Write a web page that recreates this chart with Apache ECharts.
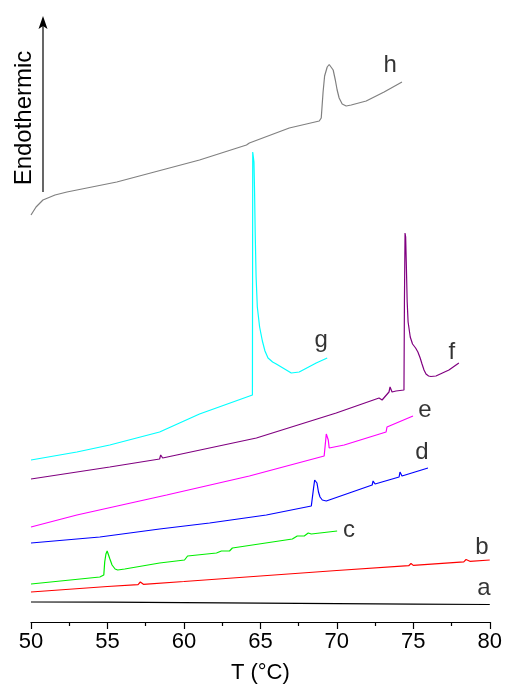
<!DOCTYPE html>
<html>
<head>
<meta charset="utf-8">
<script src="https://cdn.jsdelivr.net/npm/echarts@6/dist/echarts.min.js"></script>
<style>
  html, body { margin: 0; padding: 0; background: #fff; }
  #chart { width: 505px; height: 692px; }
</style>
</head>
<body>
<div id="chart"></div>
<script>
// DSC traces, [T (°C), heat flow (arb. units, stacked offset)]
const curveA = [[50, 20], [55, 19.8], [60, 19.3], [65, 18.8], [70, 18.3], [75, 17.9], [80, 17.5]]
const curveB = [[50, 30], [55, 35.5], [57.0, 37.4], [57.15, 40], [57.35, 37.7], [60, 40.5], [65, 46], [70, 51.5],
  [74.7, 56.3], [74.85, 58.5], [75.0, 56.6], [78.3, 60.2], [78.45, 62.5], [78.7, 60.7], [80, 62]]
const curveC = [[50, 38], [54.5, 45], [54.76, 47], [54.82, 60], [54.9, 68], [54.98, 71], [55.06, 69],
  [55.16, 63], [55.3, 57], [55.5, 53], [55.67, 52], [56.13, 53], [58.41, 59],
  [60.04, 62], [60.24, 66], [62.13, 69], [62.45, 71], [62.98, 71], [63.17, 74], [67.09, 83], [67.41, 86],
  [67.87, 86], [68.13, 89], [68.33, 88], [70.02, 91]]
const curveD = [[50, 79], [54.5, 85], [58.41, 93], [61.68, 99], [65.39, 107], [68.33, 116], [68.4, 117],
  [68.47, 133], [68.55, 142], [68.62, 144], [68.7, 139], [68.8, 130], [68.9, 125], [69.05, 122],
  [69.31, 121], [72.31, 137], [72.37, 141], [72.5, 138],
  [74.07, 145], [74.13, 150], [74.26, 146], [75.96, 154]]
const curveE = [[50, 95], [53, 107], [58.87, 127], [64.28, 146], [69.17, 166], [69.24, 177], [69.31, 188],
  [69.44, 182], [69.5, 174], [70.48, 177], [73.22, 190], [73.28, 195], [74.98, 206]]
const curveF = [[50, 143], [55.15, 155], [58.41, 163], [58.48, 167], [58.61, 164], [64.74, 184], [69.96, 209],
  [72.76, 224], [72.96, 222], [73.41, 230], [73.48, 235], [73.61, 230], [73.87, 231], [74.39, 232],
  [74.42, 320], [74.46, 389], [74.5, 385], [74.54, 360], [74.6, 320], [74.66, 300], [74.8, 285],
  [74.95, 278], [75.15, 274], [75.3, 270], [75.45, 264], [75.57, 258], [75.7, 252], [75.83, 248],
  [76.0, 246], [76.15, 245.5], [76.48, 246], [77.33, 252], [77.46, 254], [77.98, 259]]
const curveG = [[50, 162], [53, 170], [55.15, 177], [58.41, 190], [61.02, 208], [64.48, 227], [64.5, 470],
  [64.53, 472], [64.58, 460], [64.62, 430], [64.66, 390], [64.72, 345], [64.8, 315], [64.95, 295],
  [65.13, 281], [65.3, 271], [65.5, 264], [65.8, 260], [66.04, 258],
  [67.02, 249], [67.54, 250], [68.65, 259], [69.37, 264]]
const curveH = [[50, 407], [50.33, 415], [50.78, 422], [51.57, 427], [52.35, 430], [55.61, 440], [61.02, 462],
  [64.09, 477], [64.28, 479], [66.89, 494], [68.85, 501], [68.98, 504], [69.1, 530], [69.2, 546],
  [69.37, 555], [69.5, 557.5], [69.63, 557], [69.76, 552], [69.9, 542], [70.02, 532], [70.15, 524],
  [70.35, 518], [70.61, 516], [70.94, 517], [71.92, 521], [73.09, 530], [74.26, 540]]

const names = ['a', 'b', 'c', 'd', 'e', 'f', 'g', 'h']
const colors = ['#000000', '#ff0000', '#00ee00', '#0000ff', '#ff00ff', '#800080', '#00ffff', '#808080']
const curves = [curveA, curveB, curveC, curveD, curveE, curveF, curveG, curveH]
// label anchor for each trace
const labelPos = [[79.61, 34], [79.48, 75], [70.8, 92], [75.57, 170], [75.76, 212], [77.52, 270], [68.98, 282], [73.48, 557]]
const xTicks = [50, 55, 60, 65, 70, 75, 80]

const chart = echarts.init(document.getElementById('chart'))

const option = {
  animation: false,
  backgroundColor: '#fff',
  grid: { left: 31, right: 14, top: 10, bottom: 70 },
  xAxis: {
    type: 'value',
    min: xTicks[0],
    max: xTicks[xTicks.length - 1],
    interval: 5,
    name: 'T (°C)',
    nameLocation: 'middle',
    nameGap: 40,
    nameTextStyle: { fontFamily: 'Liberation Sans', fontSize: 22, color: '#000' },
    axisLine: { lineStyle: { color: '#000', width: 1.2 } },
    axisTick: { inside: false, length: 7, lineStyle: { color: '#000', width: 1.2 } },
    minorTick: { show: true, splitNumber: 2, length: 4, lineStyle: { color: '#000', width: 1.2 } },
    axisLabel: { fontFamily: 'Liberation Sans', fontSize: 22, color: '#000', margin: 9 },
    splitLine: { show: false },
  },
  yAxis: {
    type: 'value',
    min: 0,
    max: 612,
    show: false,
  },
  graphic: [
    { type: 'line', shape: { x1: 43, y1: 192, x2: 43, y2: 22 }, style: { stroke: '#000', lineWidth: 1.2 } },
    { type: 'polygon', shape: { points: [[43, 16], [38.5, 29], [43, 26], [47.5, 29]] }, style: { fill: '#000' } },
    {
      type: 'text',
      x: 24,
      y: 118,
      rotation: Math.PI / 2,
      style: {
        text: 'Endothermic',
        fontFamily: 'Liberation Sans',
        fontSize: 24,
        fill: '#000',
        align: 'center',
        verticalAlign: 'middle',
      },
    },
  ],
  series: [
    ...curves.map((data, i) => ({
      name: names[i],
      type: 'line',
      data,
      symbol: 'none',
      lineStyle: { color: colors[i], width: 1.2 },
    })),
    {
      type: 'scatter',
      symbolSize: 0,
      data: labelPos.map((p, i) => ({ value: p, name: names[i] })),
      label: {
        show: true,
        position: 'inside',
        formatter: (p) => p.name,
        fontFamily: 'Liberation Sans',
        fontSize: 24,
        color: '#000',
      },
    },
  ],
}

chart.setOption(option)
</script>
</body>
</html>
